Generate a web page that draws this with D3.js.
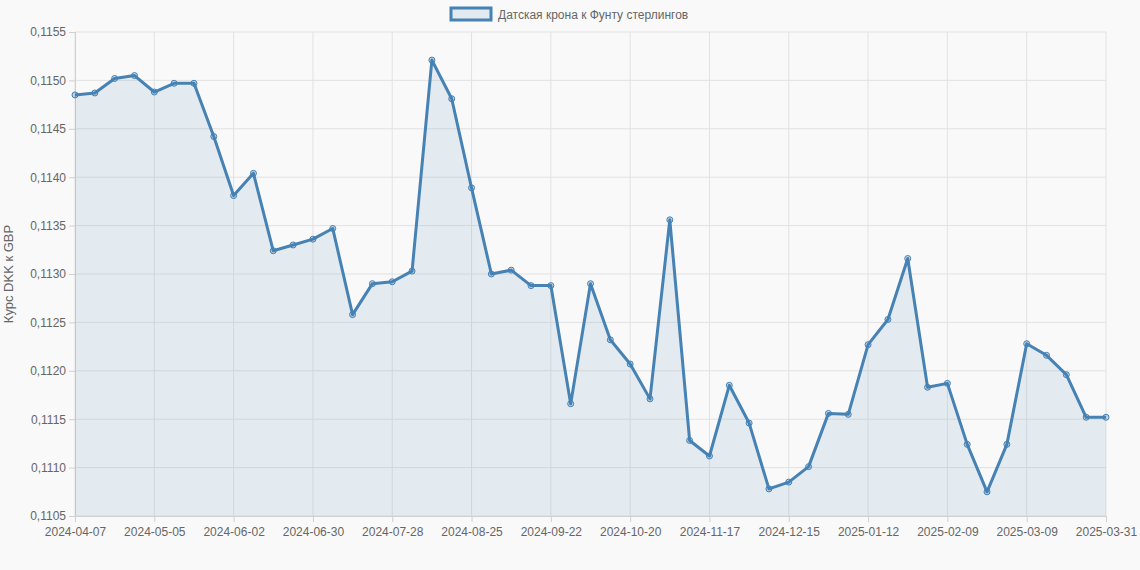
<!DOCTYPE html>
<html>
<head>
<script src="https://d3js.org/d3.v7.min.js"></script>
<style>
  body { margin: 0; background: #f9f9f9; font-family: "Helvetica Neue", Helvetica, Arial, "Liberation Sans", sans-serif; }
  .tick text { fill: #666; font-size: 12px; }
</style>
</head>
<body>
<svg id="chart" width="1140" height="570"></svg>
<script>
// weekly dates (labels), last point is the final day
var dates = ["2024-04-07","2024-04-14","2024-04-21","2024-04-28","2024-05-05","2024-05-12","2024-05-19","2024-05-26",
  "2024-06-02","2024-06-09","2024-06-16","2024-06-23","2024-06-30","2024-07-07","2024-07-14","2024-07-21",
  "2024-07-28","2024-08-04","2024-08-11","2024-08-18","2024-08-25","2024-09-01","2024-09-08","2024-09-15",
  "2024-09-22","2024-09-29","2024-10-06","2024-10-13","2024-10-20","2024-10-27","2024-11-03","2024-11-10",
  "2024-11-17","2024-11-24","2024-12-01","2024-12-08","2024-12-15","2024-12-22","2024-12-29","2025-01-05",
  "2025-01-12","2025-01-19","2025-01-26","2025-02-02","2025-02-09","2025-02-16","2025-02-23","2025-03-02",
  "2025-03-09","2025-03-16","2025-03-23","2025-03-30","2025-03-31"];
var rates = [0.11485,0.11487,0.11502,0.11505,0.11488,0.11497,0.11497,0.11442,0.11381,0.11404,0.11324,0.11330,
  0.11336,0.11347,0.11258,0.11290,0.11292,0.11303,0.11521,0.11481,0.11389,0.11300,0.11304,0.11288,0.11288,
  0.11166,0.11290,0.11232,0.11207,0.11171,0.11356,0.11128,0.11112,0.11185,0.11146,0.11078,0.11085,0.11101,
  0.11156,0.11155,0.11227,0.11253,0.11316,0.11183,0.11187,0.11124,0.11075,0.11124,0.11228,0.11216,0.11196,
  0.11152,0.11152];
var yTicks = [0.1105,0.1110,0.1115,0.1120,0.1125,0.1130,0.1135,0.1140,0.1145,0.1150,0.1155];
var seriesName = "Датская крона к Фунту стерлингов";
var yTitle = "Курс DKK к GBP";

var margin = { top: 32, right: 34, bottom: 54, left: 75 },
    width = 1140 - margin.left - margin.right,
    height = 570 - margin.top - margin.bottom;
var color = "#4682b4";

var svg = d3.select("#chart").append("g")
  .attr("transform", "translate(" + margin.left + "," + margin.top + ")");

var x = d3.scalePoint().domain(d3.range(dates.length)).range([0, width]);
var y = d3.scaleLinear().domain([0.1105, 0.1155]).range([height, 0]);
var fmt = function (d) { return d3.format(".4f")(d).replace(".", ","); };

// grid
svg.append("g").selectAll("line").data(yTicks).join("line")
  .attr("x1", 0).attr("x2", width).attr("y1", d => y(d)).attr("y2", d => y(d))
  .attr("stroke", "#e2e2e2");
var labelIdx = d3.range(0, dates.length - 1, 4).concat([dates.length - 1]);
svg.append("g").selectAll("line").data(labelIdx).join("line")
  .attr("x1", d => x(d)).attr("x2", d => x(d)).attr("y1", 0).attr("y2", height)
  .attr("stroke", "#e2e2e2");

// axes
var xAxis = svg.append("g").attr("transform", "translate(0," + height + ")")
  .call(d3.axisBottom(x).tickValues(labelIdx).tickFormat(i => dates[i]).tickSize(6));
var yAxis = svg.append("g").call(d3.axisLeft(y).tickValues(yTicks).tickFormat(fmt).tickSize(6));
[xAxis, yAxis].forEach(a => { a.select(".domain").attr("stroke", "#d0d0d0"); a.selectAll(".tick line").attr("stroke", "#d0d0d0"); });
xAxis.selectAll(".tick text").attr("dy", "0.9em");

svg.append("text").attr("transform", "rotate(-90)")
  .attr("x", -height / 2).attr("y", -62).attr("text-anchor", "middle")
  .attr("fill", "#666").style("font-size", "13px").text(yTitle);

// area + line
svg.append("path").datum(rates)
  .attr("fill", "rgba(70,130,180,0.12)")
  .attr("d", d3.area().x((d, i) => x(i)).y0(height).y1(d => y(d)));
svg.append("path").datum(rates)
  .attr("fill", "none").attr("stroke", color).attr("stroke-width", 3).attr("stroke-linejoin", "round")
  .attr("d", d3.line().x((d, i) => x(i)).y(d => y(d)));
svg.append("g").selectAll("circle").data(rates).join("circle")
  .attr("cx", (d, i) => x(i)).attr("cy", d => y(d)).attr("r", 3)
  .attr("fill", "rgba(70,130,180,0.3)").attr("stroke", color).attr("stroke-width", 1);

// legend
var leg = d3.select("#chart").append("g").attr("transform", "translate(451,8)");
leg.append("rect").attr("width", 40).attr("height", 12)
  .attr("fill", "rgba(70,130,180,0.12)").attr("stroke", color).attr("stroke-width", 3);
leg.append("text").attr("x", 47).attr("y", 11).attr("fill", "#666").style("font-size", "12px").text(seriesName);
</script>
</body>
</html>
